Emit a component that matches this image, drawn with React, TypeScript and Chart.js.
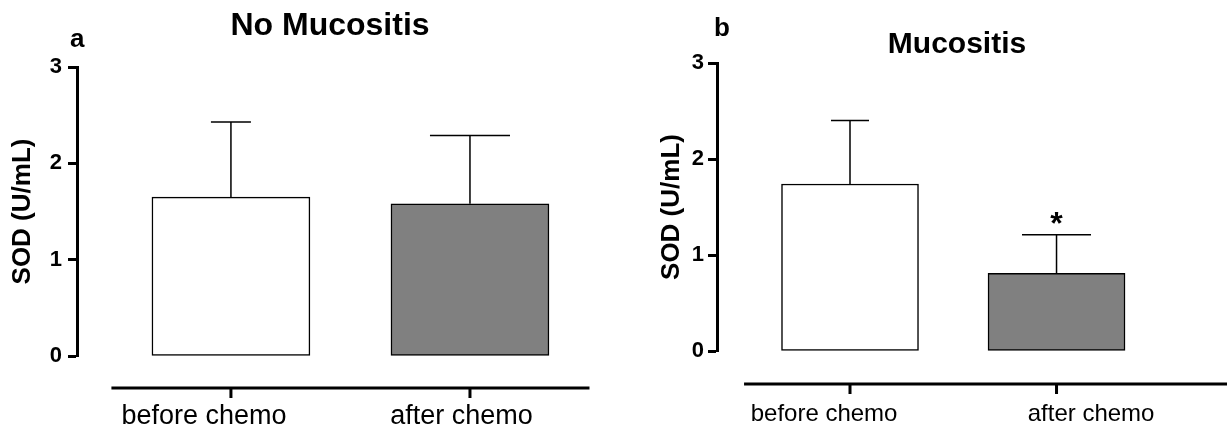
import React, { useEffect, useRef } from "react";
import { Chart, registerables } from "chart.js";

Chart.register(...registerables);

// ---- data ----
const categories = ["before chemo", "after chemo"];
const yTicks = [0, 1, 2, 3];
const yAxisTitle = "SOD (U/mL)";

const noMucositisMean = [1.65, 1.58];
const noMucositisSD = [0.78, 0.71];
const noMucositisMarks = ["", ""];

const mucositisMean = [1.74, 0.81];
const mucositisSD = [0.66, 0.4];
const mucositisMarks = ["", "*"];

const barColors = ["#ffffff", "#808080"];

const FAMILY = "'Liberation Sans', Arial, Helvetica, sans-serif";

type PanelCfg = {
  title: string;
  letter: string;
  left: number;
  width: number;
  titleFont: number;
  titlePadTop: number;
  titlePadBottom: number;
  xMin: number;
  xMax: number;
  lMin: number;
  lMax: number;
  barThickness: number;
  capWidths: number[];
  axisGap: number;
  axisFrom: number;
  axisTo: number;
  yTitlePad: number;
  tickPad: number;
  labelFont: number;
  labelPad: number;
  xAxisHeight: number;
  letterDx: number;
  letterDy: number;
};

const panelA: PanelCfg = {
  title: "No Mucositis",
  letter: "a",
  left: 0,
  width: 660,
  titleFont: 32,
  titlePadTop: 10.5,
  titlePadBottom: 24.5,
  xMin: -0.644,
  xMax: 1.795,
  lMin: -0.493,
  lMax: 1.771,
  barThickness: 158,
  capWidths: [40, 80],
  axisGap: 32,
  axisFrom: -0.5,
  axisTo: 1.5,
  yTitlePad: 10,
  tickPad: 6,
  labelFont: 27,
  labelPad: 44,
  xAxisHeight: 76,
  letterDx: -7,
  letterDy: -20,
};

const panelB: PanelCfg = {
  title: "Mucositis",
  letter: "b",
  left: 640,
  width: 634,
  titleFont: 30,
  titlePadTop: 30,
  titlePadBottom: 3,
  xMin: -0.644,
  xMax: 2.053,
  lMin: -0.401,
  lMax: 1.685,
  barThickness: 137,
  capWidths: [38, 69],
  axisGap: 33,
  axisFrom: -0.513,
  axisTo: 1.95,
  yTitlePad: 19,
  tickPad: 4,
  labelFont: 24,
  labelPad: 49,
  xAxisHeight: 81,
  letterDx: -3,
  letterDy: -27,
};

function makeExtras(cfg: PanelCfg, means: number[], sds: number[], marks: string[]) {
  return {
    id: "panelExtras",
    afterDatasetsDraw(chart: any) {
      const { ctx, chartArea, scales } = chart;
      const xs = scales.x;
      const ys = scales.y;
      ctx.save();
      ctx.strokeStyle = "#000";
      ctx.fillStyle = "#000";
      // error bars (upper SD)
      ctx.lineWidth = 1.5;
      means.forEach((m, i) => {
        const px = xs.getPixelForValue(i);
        const yb = ys.getPixelForValue(m);
        const yt = ys.getPixelForValue(m + sds[i]);
        const half = cfg.capWidths[i] / 2;
        ctx.beginPath();
        ctx.moveTo(px, yb);
        ctx.lineTo(px, yt);
        ctx.moveTo(px - half, yt);
        ctx.lineTo(px + half, yt);
        ctx.stroke();
        if (marks[i]) {
          ctx.font = `bold 32px ${FAMILY}`;
          ctx.textAlign = "center";
          ctx.textBaseline = "alphabetic";
          ctx.fillText(marks[i], px, yt - 1);
        }
      });
      // detached x axis line with tick marks
      const yLine = chartArea.bottom + cfg.axisGap;
      ctx.lineWidth = 3;
      ctx.beginPath();
      ctx.moveTo(xs.getPixelForValue(cfg.axisFrom), yLine);
      ctx.lineTo(xs.getPixelForValue(cfg.axisTo), yLine);
      categories.forEach((_, i) => {
        const px = xs.getPixelForValue(i);
        ctx.moveTo(px, yLine);
        ctx.lineTo(px, yLine + 10);
      });
      ctx.stroke();
      // panel letter
      ctx.font = `bold 26px ${FAMILY}`;
      ctx.textAlign = "left";
      ctx.textBaseline = "alphabetic";
      ctx.fillText(cfg.letter, chartArea.left + cfg.letterDx, chartArea.top + cfg.letterDy);
      ctx.restore();
    },
  };
}

function Panel({ cfg, means, sds, marks }: { cfg: PanelCfg; means: number[]; sds: number[]; marks: string[] }) {
  const ref = useRef<HTMLCanvasElement>(null);
  useEffect(() => {
    if (!ref.current) return;
    const chart = new Chart(ref.current, {
      type: "bar",
      data: {
        datasets: [
          {
            data: means.map((v, i) => ({ x: i, y: v })),
            backgroundColor: barColors,
            borderColor: "#000",
            borderWidth: 1.5,
            borderSkipped: false,
            barThickness: cfg.barThickness,
            xAxisID: "x",
            yAxisID: "y",
          } as any,
        ],
      },
      options: {
        responsive: false,
        animation: false,
        devicePixelRatio: 1,
        layout: { padding: 0 },
        plugins: {
          legend: { display: false },
          tooltip: { enabled: false },
          title: {
            display: true,
            text: cfg.title,
            color: "#000",
            font: { family: FAMILY, size: cfg.titleFont, weight: "bold", lineHeight: 1 },
            padding: { top: cfg.titlePadTop, bottom: cfg.titlePadBottom },
          },
        },
        scales: {
          x: {
            type: "linear",
            display: false,
            offset: false,
            bounds: "data",
            min: cfg.xMin,
            max: cfg.xMax,
            grid: { offset: false },
          },
          xl: {
            type: "linear",
            position: "bottom",
            offset: false,
            bounds: "data",
            min: cfg.lMin,
            max: cfg.lMax,
            grid: { display: false, drawTicks: false, offset: false },
            border: { display: false },
            ticks: {
              color: "#000",
              font: { family: FAMILY, size: cfg.labelFont },
              padding: cfg.labelPad,
              maxRotation: 0,
              autoSkip: false,
              callback: (v: any) => categories[v as number] ?? "",
            },
            afterBuildTicks: (s: any) => {
              s.ticks = categories.map((_, i) => ({ value: i }));
            },
            afterFit: (s: any) => {
              s.height = cfg.xAxisHeight;
            },
          } as any,
          y: {
            type: "linear",
            position: "left",
            min: 0,
            max: 3,
            border: { display: true, width: 3, color: "#000" },
            grid: {
              display: true,
              drawOnChartArea: false,
              drawTicks: true,
              tickLength: 9,
              tickWidth: 3,
              tickColor: "#000",
              color: "#000",
            },
            ticks: {
              color: "#000",
              font: { family: FAMILY, size: 22, weight: "bold" },
              padding: cfg.tickPad,
            },
            afterBuildTicks: (s: any) => {
              s.ticks = yTicks.map((v) => ({ value: v }));
            },
            afterFit: (s: any) => {
              s.width = 77;
            },
            title: {
              display: true,
              text: yAxisTitle,
              color: "#000",
              font: { family: FAMILY, size: 26, weight: "bold", lineHeight: 1 },
              padding: { top: cfg.yTitlePad, bottom: 0 },
            },
          } as any,
        },
      },
      plugins: [makeExtras(cfg, means, sds, marks)],
    });
    return () => chart.destroy();
  }, []);
  return (
    <canvas
      ref={ref}
      width={cfg.width}
      height={432}
      style={{ position: "absolute", left: cfg.left, top: 0, width: cfg.width, height: 432 }}
    />
  );
}

export default function App() {
  return (
    <div
      style={{
        position: "absolute",
        left: 0,
        top: 0,
        width: 1227,
        height: 432,
        overflow: "hidden",
        background: "#ffffff",
      }}
    >
      <Panel cfg={panelA} means={noMucositisMean} sds={noMucositisSD} marks={noMucositisMarks} />
      <Panel cfg={panelB} means={mucositisMean} sds={mucositisSD} marks={mucositisMarks} />
    </div>
  );
}
